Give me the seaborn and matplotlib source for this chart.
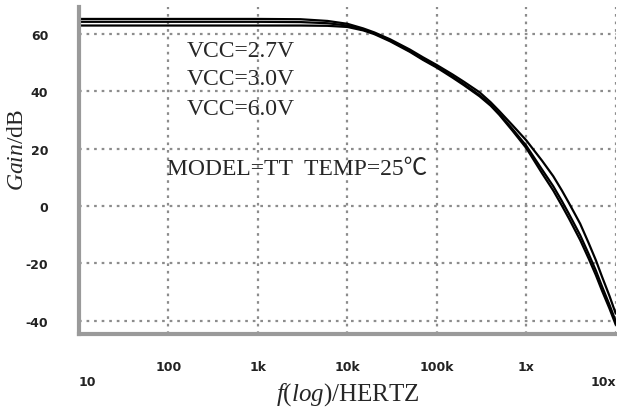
import numpy as np
import pandas as pd
import seaborn as sns
import matplotlib.pyplot as plt
from matplotlib.ticker import FixedLocator, LogLocator, NullFormatter

freq = [10, 100, 1e3, 3e3, 6e3, 1e4, 1.5e4, 2e4, 3e4, 5e4, 7e4, 1e5, 1.5e5, 2e5, 3e5,
        4e5, 5e5, 7e5, 1e6, 1.5e6, 2e6, 2.5e6, 3e6, 4e6, 5e6, 6e6, 7e6, 8.5e6, 1e7]
gain_27 = [63.0, 63.0, 63.0, 63.0, 62.9, 62.5, 61.3, 60.0, 57.5, 53.8, 51.0, 48.3, 44.8, 42.2, 38.3,
           35.0, 31.8, 26.3, 20.2, 11.4, 5.4, 0.1, -4.4, -11.9, -18.5, -24.2, -29.5, -35.8, -41.5]
gain_30 = [64.3, 64.3, 64.3, 64.2, 63.8, 63.0, 61.6, 60.3, 57.8, 54.1, 51.3, 48.6, 45.2, 42.6, 38.7,
           35.4, 32.2, 26.9, 21.0, 12.7, 6.9, 1.7, -2.8, -10.2, -16.9, -22.6, -28.0, -34.5, -40.3]
gain_60 = [65.3, 65.3, 65.3, 65.2, 64.6, 63.6, 62.0, 60.6, 58.2, 54.6, 51.9, 49.2, 45.9, 43.4, 39.7,
           36.2, 33.1, 28.2, 22.9, 15.8, 10.4, 5.4, 1.0, -6.2, -13.1, -19.0, -24.6, -31.4, -37.6]
vcc_labels = ["VCC=2.7V", "VCC=3.0V", "VCC=6.0V"]
xtick_vals = [10, 100, 1e3, 1e4, 1e5, 1e6, 1e7]
xtick_text = ["\n10", "100", "1k", "10k", "100k", "1x", "\n10x"]
ytick_vals = [-40, -20, 0, 20, 40, 60]

df = pd.DataFrame({
    "freq": freq * 3,
    "gain": gain_27 + gain_30 + gain_60,
    "vcc": [vcc_labels[0]] * len(freq) + [vcc_labels[1]] * len(freq) + [vcc_labels[2]] * len(freq),
})

sns.set_style("white")
plt.rcParams["mathtext.fontset"] = "custom"
plt.rcParams["mathtext.rm"] = "Liberation Serif"
plt.rcParams["mathtext.it"] = "Liberation Serif:italic"
plt.rcParams["axes.unicode_minus"] = False

fig = plt.figure(figsize=(6.17, 4.10), dpi=100)
ax = fig.add_axes([0.128, 0.183, 0.870, 0.797])

sns.lineplot(data=df, x="freq", y="gain", hue="vcc", palette=["black"] * 3,
             estimator=None, linewidth=1.6, legend=False, ax=ax)
ax.set_xscale("log")
ax.set_xlim(10, 1e7)
ax.set_ylim(-44.7, 69.4)

# dotted grid
grid_kw = dict(color="#8c8c8c", linestyle=(0, (1.2, 2.2)), linewidth=1.6, zorder=0)
for y in ytick_vals:
    ax.axhline(y, **grid_kw)
for x in xtick_vals[1:]:
    ax.axvline(x, **grid_kw)

for s in ["top", "right"]:
    ax.spines[s].set_visible(False)
for s in ["left", "bottom"]:
    ax.spines[s].set_color("#9a9a9a")
    ax.spines[s].set_linewidth(3)

ax.yaxis.set_major_locator(FixedLocator(ytick_vals))
ax.yaxis.set_minor_locator(FixedLocator(np.arange(-44, 69, 4)))
ax.tick_params(axis="y", which="major", direction="out", length=5, width=1.5,
               color="#777777", pad=17, labelsize=9)
ax.tick_params(axis="y", which="minor", direction="out", length=3, width=1.5, color="#999999")

ax.xaxis.set_major_locator(FixedLocator(xtick_vals))
ax.xaxis.set_minor_locator(LogLocator(base=10, subs=np.arange(2, 10)))
ax.xaxis.set_minor_formatter(NullFormatter())
ax.set_xticklabels(xtick_text)
ax.tick_params(axis="x", which="major", direction="out", length=7, width=1.5,
               color="#777777", pad=12, labelsize=9)
ax.tick_params(axis="x", which="minor", direction="out", length=4, width=1.2, color="#888888")
for lab in ax.get_xticklabels() + ax.get_yticklabels():
    lab.set_fontweight("bold")
    lab.set_color("#222222")
xl = ax.get_xticklabels()
xl[0].set_ha("left")
xl[-1].set_ha("right")

ax.set_ylabel(r"$\mathit{Gain}$/dB", fontsize=17, family="Liberation Serif")
ax.set_xlabel(r"$\mathit{f(log)}$/HERTZ", fontsize=18, family="Liberation Serif")
ax.yaxis.set_label_coords(-0.095, 0.565)
ax.xaxis.set_label_coords(0.5, -0.14)

txt_kw = dict(transform=ax.transAxes, fontsize=17, va="baseline",
              family=["Liberation Serif", "Noto Sans CJK SC"])
ax.text(0.201, 0.850, vcc_labels[0], **txt_kw)
ax.text(0.201, 0.765, vcc_labels[1], **txt_kw)
ax.text(0.201, 0.673, vcc_labels[2], **txt_kw)
ax.text(0.164, 0.489, "MODEL=TT  TEMP=25℃", **txt_kw)

fig.savefig("out.png", dpi=100)
